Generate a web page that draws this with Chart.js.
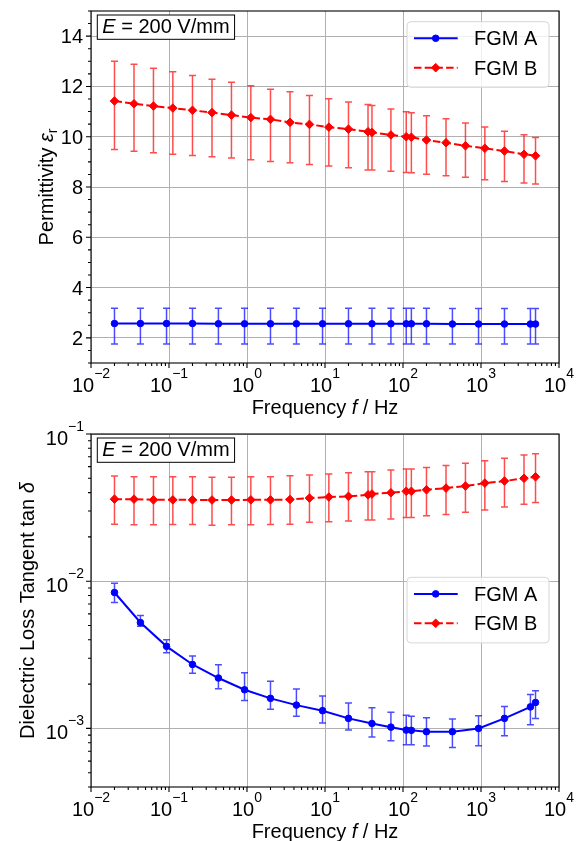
<!DOCTYPE html>
<html lang="en">
<head>
<meta charset="UTF-8">
<title>Permittivity and Loss Tangent vs Frequency</title>
<script src="https://cdn.jsdelivr.net/npm/chart.js"></script>
<style>
    * { margin: 0; padding: 0; box-sizing: border-box; }
    body { background: #fff; width: 577px; height: 841px; overflow: hidden; }
    canvas { display: block; }
</style>
</head>
<body>
<canvas id="epsChart" width="577" height="420"></canvas>
<canvas id="tanChart" width="577" height="421"></canvas>

<script>
// frequencies in Hz
const freqA = [0.02, 0.043, 0.093, 0.2, 0.43, 0.93, 2, 4.3, 9.3, 20, 40, 70, 110, 128, 200, 430, 930, 2000, 4300, 5000];
const freqB = [0.02, 0.0356, 0.0632, 0.112, 0.2, 0.356, 0.632, 1.12, 2, 3.56, 6.32, 11.2, 20, 35.6, 40, 70, 110, 128, 200, 356, 632, 1120, 2000, 3560, 5000];

// permittivity, mean and error bar ends
const epsA   = [2.57, 2.57, 2.57, 2.57, 2.56, 2.56, 2.56, 2.56, 2.56, 2.56, 2.56, 2.56, 2.56, 2.56, 2.56, 2.55, 2.55, 2.55, 2.55, 2.55];
const epsAHi = [3.18, 3.18, 3.18, 3.18, 3.18, 3.18, 3.18, 3.18, 3.18, 3.18, 3.18, 3.18, 3.18, 3.18, 3.18, 3.17, 3.17, 3.17, 3.17, 3.17];
const epsALo = [1.76, 1.76, 1.76, 1.76, 1.76, 1.76, 1.76, 1.76, 1.76, 1.76, 1.76, 1.76, 1.76, 1.76, 1.76, 1.76, 1.76, 1.76, 1.76, 1.76];

const epsB   = [11.42, 11.31, 11.22, 11.14, 11.05, 10.96, 10.86, 10.76, 10.69, 10.57, 10.49, 10.38, 10.30, 10.20, 10.17, 10.07, 10.00, 9.98, 9.87, 9.76, 9.64, 9.54, 9.43, 9.30, 9.24];
const epsBHi = [13.00, 12.88, 12.72, 12.58, 12.43, 12.29, 12.17, 12.03, 11.89, 11.79, 11.64, 11.51, 11.38, 11.28, 11.24, 11.10, 10.99, 10.95, 10.83, 10.71, 10.55, 10.39, 10.22, 10.08, 9.97];
const epsBLo = [9.49, 9.42, 9.36, 9.30, 9.25, 9.20, 9.15, 9.08, 9.01, 8.96, 8.89, 8.84, 8.77, 8.68, 8.68, 8.63, 8.58, 8.57, 8.51, 8.45, 8.39, 8.29, 8.22, 8.16, 8.12];

// loss tangent, mean and error bar ends
const tanA   = [0.00838, 0.00524, 0.00361, 0.00272, 0.00220, 0.00183, 0.00160, 0.00144, 0.00132, 0.00117, 0.00108, 0.00102, 0.000974, 0.00097, 0.00095, 0.00095, 0.00100, 0.00117, 0.00140, 0.00150];
const tanAHi = [0.00969, 0.00584, 0.00401, 0.00310, 0.00271, 0.00239, 0.00209, 0.00185, 0.00166, 0.00149, 0.00138, 0.00129, 0.00123, 0.00121, 0.00118, 0.00116, 0.00122, 0.00141, 0.00170, 0.00180];
const tanALo = [0.00716, 0.00494, 0.00327, 0.00237, 0.00186, 0.00155, 0.00135, 0.00121, 0.00109, 0.000974, 0.000873, 0.000824, 0.000775, 0.000775, 0.000759, 0.000743, 0.000762, 0.000892, 0.00106, 0.00117];

const tanB   = [0.0361, 0.0361, 0.0357, 0.0357, 0.0357, 0.0356, 0.0356, 0.0357, 0.0357, 0.0359, 0.0367, 0.0373, 0.0377, 0.0386, 0.0391, 0.0399, 0.0408, 0.0408, 0.0418, 0.0429, 0.0443, 0.0464, 0.0479, 0.0500, 0.0512];
const tanBHi = [0.0518, 0.0512, 0.0512, 0.0512, 0.0512, 0.0509, 0.0509, 0.0512, 0.0512, 0.0520, 0.0526, 0.0535, 0.0545, 0.0553, 0.0553, 0.0569, 0.0578, 0.0578, 0.0593, 0.0612, 0.0632, 0.0658, 0.0683, 0.0720, 0.0734];
const tanBLo = [0.0244, 0.0242, 0.0242, 0.0243, 0.0243, 0.0240, 0.0242, 0.0242, 0.0243, 0.0244, 0.0251, 0.0253, 0.0256, 0.0261, 0.0261, 0.0265, 0.0271, 0.0271, 0.0278, 0.0284, 0.0294, 0.0305, 0.0319, 0.0333, 0.0343];

// tick values
const freqTicks = [0.01, 0.1, 1, 10, 100, 1000, 10000];
const epsTicks = [2, 4, 6, 8, 10, 12, 14];
const tanTicks = [0.001, 0.01, 0.1];

const seriesNames = ['FGM A', 'FGM B'];
const fieldLabel = '200 V/mm';

const FONT = "'Liberation Sans', Arial, Helvetica, sans-serif";

function setFont(ctx, p) {
    ctx.font = (p.it ? 'italic ' : '') + (p.s || 20) + 'px ' + FONT;
}

function drawRich(ctx, parts, x, y, align) {
    let w = 0;
    parts.forEach(p => { setFont(ctx, p); w += ctx.measureText(p.t).width; });
    let cx = align === 'center' ? x - w / 2 : align === 'right' ? x - w : x;
    ctx.textAlign = 'left';
    ctx.textBaseline = 'alphabetic';
    parts.forEach(p => {
        setFont(ctx, p);
        ctx.fillText(p.t, cx, y + (p.dy || 0));
        cx += ctx.measureText(p.t).width;
    });
    return w;
}

function pow10Label(v) {
    const e = Math.round(Math.log10(v));
    return [{ t: '10' }, { t: String(e).replace('-', '\u2212'), s: 14, dy: -14 }];
}

// minor ticks 2..9 x 10^k inside [lo, hi]
function logMinor(lo, hi) {
    const out = [];
    for (let k = Math.floor(Math.log10(lo)); k <= Math.ceil(Math.log10(hi)); k++) {
        for (let m = 2; m <= 9; m++) {
            const v = m * Math.pow(10, k);
            if (v >= lo && v <= hi) out.push(v);
        }
    }
    return out;
}

const decor = {
    id: 'decor',
    beforeDatasetsDraw(chart) {
        const ctx = chart.ctx, ys = chart.scales.y;
        ctx.save();
        chart.data.datasets.forEach((ds, i) => {
            const meta = chart.getDatasetMeta(i);
            ctx.strokeStyle = ds.errColor;
            ctx.lineWidth = 1.5;
            ctx.beginPath();
            meta.data.forEach((pt, j) => {
                const yh = ys.getPixelForValue(ds.errHi[j]);
                const yl = ys.getPixelForValue(ds.errLo[j]);
                ctx.moveTo(pt.x, yh); ctx.lineTo(pt.x, yl);
                ctx.moveTo(pt.x - 3.5, yh); ctx.lineTo(pt.x + 3.5, yh);
                ctx.moveTo(pt.x - 3.5, yl); ctx.lineTo(pt.x + 3.5, yl);
            });
            ctx.stroke();
        });
        ctx.restore();
    },
    afterDraw(chart, args, o) {
        const ctx = chart.ctx, a = chart.chartArea;
        const xs = chart.scales.x, ys = chart.scales.y;
        ctx.save();

        // frame
        ctx.strokeStyle = '#000';
        ctx.lineWidth = 1.1;
        ctx.strokeRect(a.left, a.top, a.right - a.left, a.bottom - a.top);

        // tick marks
        ctx.beginPath();
        freqTicks.forEach(v => { const p = xs.getPixelForValue(v); ctx.moveTo(p, a.bottom); ctx.lineTo(p, a.bottom + 5); });
        logMinor(0.01, 10000).forEach(v => { const p = xs.getPixelForValue(v); ctx.moveTo(p, a.bottom); ctx.lineTo(p, a.bottom + 3); });
        o.yMajor.forEach(v => { const p = ys.getPixelForValue(v); ctx.moveTo(a.left, p); ctx.lineTo(a.left - 5, p); });
        o.yMinor.forEach(v => { const p = ys.getPixelForValue(v); ctx.moveTo(a.left, p); ctx.lineTo(a.left - 3, p); });
        ctx.stroke();

        // tick labels
        ctx.fillStyle = '#000';
        freqTicks.forEach(v => drawRich(ctx, pow10Label(v), xs.getPixelForValue(v), a.bottom + 29, 'center'));
        o.yMajor.forEach(v => {
            const p = ys.getPixelForValue(v);
            if (o.logY) drawRich(ctx, pow10Label(v), a.left - 7, p + 11, 'right');
            else drawRich(ctx, [{ t: String(v) }], a.left - 8, p + 7, 'right');
        });

        // axis titles
        drawRich(ctx, [{ t: 'Frequency ' }, { t: 'f', it: true }, { t: ' / Hz' }], (a.left + a.right) / 2, a.bottom + 51, 'center');
        ctx.save();
        ctx.translate(o.yTitleX, (a.top + a.bottom) / 2);
        ctx.rotate(-Math.PI / 2);
        drawRich(ctx, o.yTitle, 0, 0, 'center');
        ctx.restore();

        // field strength box
        const tx = a.left + 11.3, parts = [{ t: 'E', it: true }, { t: ' = ' + fieldLabel }];
        let tw = 0;
        parts.forEach(p => { setFont(ctx, p); tw += ctx.measureText(p.t).width; });
        ctx.fillStyle = '#fff';
        ctx.fillRect(tx - 5, a.top + 4, tw + 10, 24.3);
        ctx.strokeStyle = '#000';
        ctx.lineWidth = 1;
        ctx.strokeRect(tx - 5, a.top + 4, tw + 10, 24.3);
        ctx.fillStyle = '#000';
        drawRich(ctx, parts, tx, a.top + 22.3, 'left');

        // legend
        const lw = 142, lh = 65.6, lx = a.right - 10 - lw, ly = a.top + o.legendTop;
        ctx.beginPath();
        ctx.roundRect(lx, ly, lw, lh, 4);
        ctx.fillStyle = 'rgba(255,255,255,0.8)';
        ctx.fill();
        ctx.strokeStyle = '#d6d6d6';
        ctx.lineWidth = 1;
        ctx.stroke();
        chart.data.datasets.forEach((ds, i) => {
            const cy = ly + 16.6 + i * 29.4;
            ctx.save();
            ctx.strokeStyle = ds.borderColor;
            ctx.lineWidth = ds.borderWidth;
            ctx.setLineDash(ds.borderDash || []);
            ctx.beginPath();
            ctx.moveTo(lx + 7, cy); ctx.lineTo(lx + 50.7, cy);
            ctx.stroke();
            ctx.restore();
            ctx.fillStyle = ds.backgroundColor;
            ctx.strokeStyle = ds.borderColor;
            ctx.lineWidth = ds.pointBorderWidth;
            Chart.helpers.drawPoint(ctx, { pointStyle: ds.pointStyle, radius: ds.pointRadius, borderWidth: ds.pointBorderWidth, rotation: 0 }, lx + 28.7, cy);
            ctx.fillStyle = '#000';
            drawRich(ctx, [{ t: ds.label }], lx + 67, cy + 7, 'left');
        });

        ctx.restore();
    }
};

function makeDatasets(yA, hiA, loA, yB, hiB, loB) {
    return [
        {
            label: seriesNames[0],
            data: freqA.map((f, i) => ({ x: f, y: yA[i] })),
            errHi: hiA, errLo: loA, errColor: 'rgba(0,0,255,0.7)',
            borderColor: '#0000ff', backgroundColor: '#0000ff',
            borderWidth: 2, pointStyle: 'circle', pointRadius: 3.3, pointBorderWidth: 1
        },
        {
            label: seriesNames[1],
            data: freqB.map((f, i) => ({ x: f, y: yB[i] })),
            errHi: hiB, errLo: loB, errColor: 'rgba(255,0,0,0.7)',
            borderColor: '#ff0000', backgroundColor: '#ff0000',
            borderWidth: 2, borderDash: [7.5, 3.2], pointStyle: 'rectRot', pointRadius: 4.3, pointBorderWidth: 1
        }
    ];
}

function makeChart(id, datasets, yScale, padTop, xHeight, decorOpts) {
    return new Chart(document.getElementById(id), {
        type: 'line',
        data: { datasets: datasets },
        plugins: [decor],
        options: {
            responsive: false,
            animation: false,
            events: [],
            layout: { padding: { left: 0, right: 18, top: padTop, bottom: 0 } },
            scales: {
                x: {
                    type: 'logarithmic', min: 0.01, max: 10000,
                    afterBuildTicks: s => { s.ticks = freqTicks.map(v => ({ value: v })); },
                    afterFit: s => { s.height = xHeight; },
                    ticks: { display: false },
                    grid: { color: '#b0b0b0', lineWidth: 1, drawTicks: false },
                    border: { display: false }
                },
                y: Object.assign({
                    afterFit: s => { s.width = 91; },
                    ticks: { display: false },
                    grid: { color: '#b0b0b0', lineWidth: 1, drawTicks: false },
                    border: { display: false }
                }, yScale)
            },
            plugins: {
                legend: { display: false },
                tooltip: { enabled: false },
                decor: decorOpts
            }
        }
    });
}

const epsMinor = [];
for (let v = 1; v <= 15; v += 0.5) if (v % 2 !== 0) epsMinor.push(v);

makeChart('epsChart',
    makeDatasets(epsA, epsAHi, epsALo, epsB, epsBHi, epsBLo),
    { type: 'linear', min: 1, max: 15, afterBuildTicks: s => { s.ticks = epsTicks.map(v => ({ value: v })); } },
    11, 57,
    {
        logY: false, yMajor: epsTicks, yMinor: epsMinor, yTitleX: 53, legendTop: 10.7,
        yTitle: [{ t: 'Permittivity ' }, { t: '\u03b5', it: true }, { t: 'r', s: 14, dy: 4 }]
    });

makeChart('tanChart',
    makeDatasets(tanA, tanAHi, tanALo, tanB, tanBHi, tanBLo),
    { type: 'logarithmic', min: 0.0004, max: 0.1, afterBuildTicks: s => { s.ticks = tanTicks.map(v => ({ value: v })); } },
    14, 54,
    {
        logY: true, yMajor: tanTicks, yMinor: logMinor(0.0004, 0.1), yTitleX: 34, legendTop: 143.3,
        yTitle: [{ t: 'Dielectric Loss Tangent tan ' }, { t: '\u03b4', it: true }]
    });
</script>
</body>
</html>
